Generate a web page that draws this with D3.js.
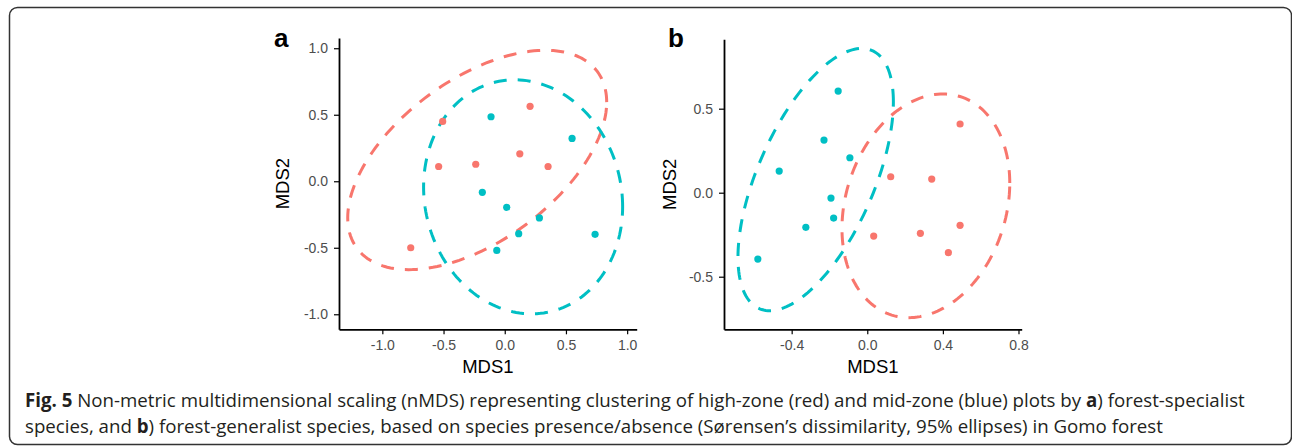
<!DOCTYPE html>
<html>
<head>
<meta charset="utf-8">
<script src="https://cdn.jsdelivr.net/npm/d3@7"></script>
<style>
  body { margin: 0; background: #fff; }
  svg { display: block; }
  .tick text { font-family: "Liberation Sans", Arial, sans-serif; font-size: 14px; fill: #4d4d4d; }
  .tick line, .domain { stroke: #000; }
</style>
</head>
<body>
<svg width="1292" height="447"></svg>
<script>
// ---- data ----
var groups = ["high", "mid"];
var groupColor = ["#F8766D", "#00BFC4"];

// panel a (forest-specialist)
var aHighX = [-0.507, 0.207, -0.540, -0.237, 0.123, 0.354, -0.768];
var aHighY = [0.450, 0.563, 0.111, 0.128, 0.206, 0.111, -0.500];
var aMidX = [-0.112, 0.550, -0.183, 0.016, 0.283, 0.114, -0.065, 0.738];
var aMidY = [0.485, 0.322, -0.083, -0.196, -0.276, -0.394, -0.520, -0.399];
// 95% ellipses: centre [x, y] and shape [sxx, syy, sxy]
var aHighCentre = [-0.225, 0.160], aHighShape = [1.119, 0.680, 0.46];
var aMidCentre = [0.150, -0.117], aMidShape = [0.661, 0.774, -0.06];
var aTicks = [-1.0, -0.5, 0.0, 0.5, 1.0];

// panel b (forest-generalist)
var bHighX = [0.491, 0.124, 0.341, 0.491, 0.034, 0.281, 0.429];
var bHighY = [0.409, 0.095, 0.081, -0.194, -0.258, -0.242, -0.357];
var bMidX = [-0.154, -0.229, -0.092, -0.466, -0.192, -0.178, -0.325, -0.579];
var bMidY = [0.605, 0.313, 0.208, 0.129, -0.032, -0.151, -0.206, -0.395];
var bHighCentre = [0.310, -0.078], bHighShape = [0.197, 0.443, 0.06];
var bMidCentre = [-0.273, 0.078], bMidShape = [0.169, 0.609, 0.19];
var bXTicks = [-0.4, 0.0, 0.4, 0.8];
var bYTicks = [-0.5, 0.0, 0.5];

var svg = d3.select("svg");

// caption box
svg.append("rect")
    .attr("x", 9.5).attr("y", 7.5)
    .attr("width", 1282).attr("height", 437)
    .attr("rx", 8)
    .attr("fill", "none")
    .attr("stroke", "#333")
    .attr("stroke-width", 1.5);

function ellipsePoints(centre, shape) {
  var l11 = Math.sqrt(shape[0]),
      l21 = shape[2] / l11,
      l22 = Math.sqrt(shape[1] - l21 * l21);
  return d3.range(0, 2 * Math.PI, Math.PI / 90).map(function(t) {
    var u = Math.cos(t), v = Math.sin(t);
    return [centre[0] + l11 * u, centre[1] + l21 * u + l22 * v];
  });
}

function panel(opt) {
  var x = d3.scaleLinear().domain(opt.xDomain).range(opt.xRange),
      y = d3.scaleLinear().domain(opt.yDomain).range(opt.yRange);
  var g = svg.append("g");

  var line = d3.line()
      .x(function(d) { return x(d[0]); })
      .y(function(d) { return y(d[1]); })
      .curve(d3.curveLinearClosed);

  g.selectAll("path.ell")
    .data(opt.ellipses)
    .enter().append("path")
    .attr("class", "ell")
    .attr("d", function(d) { return line(ellipsePoints(d.centre, d.shape)); })
    .attr("fill", "none")
    .attr("stroke", function(d) { return groupColor[d.group]; })
    .attr("stroke-width", 3)
    .attr("stroke-dasharray", "13,11");

  opt.series.forEach(function(s) {
    g.selectAll(null)
      .data(s.xs)
      .enter().append("circle")
      .attr("cx", function(d) { return x(d); })
      .attr("cy", function(d, i) { return y(s.ys[i]); })
      .attr("r", 3.6)
      .attr("fill", groupColor[s.group]);
  });

  var xAxis = g.append("g")
      .attr("transform", "translate(0," + opt.yRange[0] + ")")
      .call(d3.axisBottom(x).tickValues(opt.xTicks).tickFormat(d3.format(".1f"))
        .tickSize(5).tickSizeOuter(0).tickPadding(5.5));
  var yAxis = g.append("g")
      .attr("transform", "translate(" + opt.xRange[0] + ",0)")
      .call(d3.axisLeft(y).tickValues(opt.yTicks).tickFormat(d3.format(".1f"))
        .tickSize(5).tickSizeOuter(0).tickPadding(6));
  [xAxis, yAxis].forEach(function(a) {
    a.select(".domain").attr("stroke-width", 1.8);
    a.selectAll(".tick line").attr("stroke-width", 1.2);
    a.selectAll(".tick text").text(function(d) { return d3.format(".1f")(d).replace("−", "-"); });
  });

  g.append("text")
    .attr("x", (opt.xRange[0] + opt.xRange[1]) / 2)
    .attr("y", 373)
    .attr("text-anchor", "middle")
    .style("font-family", "Liberation Sans, Arial, sans-serif")
    .style("font-size", "18.5px")
    .text("MDS1");
  g.append("text")
    .attr("transform", "translate(" + opt.yTitleX + "," + ((opt.yRange[0] + opt.yRange[1]) / 2) + ") rotate(-90)")
    .attr("text-anchor", "middle")
    .style("font-family", "Liberation Sans, Arial, sans-serif")
    .style("font-size", "18.5px")
    .text("MDS2");
  g.append("text")
    .attr("x", opt.labelX).attr("y", 47)
    .style("font-family", "Liberation Sans, Arial, sans-serif")
    .style("font-size", "26px")
    .style("font-weight", "bold")
    .text(opt.label);
}

panel({
  label: "a", labelX: 274, yTitleX: 289,
  xDomain: [-1.354, 1.078], xRange: [339, 636.7],
  yDomain: [-1.113, 1.077], yRange: [329.3, 38],
  xTicks: aTicks, yTicks: aTicks,
  ellipses: [
    { group: 0, centre: aHighCentre, shape: aHighShape },
    { group: 1, centre: aMidCentre, shape: aMidShape }
  ],
  series: [
    { group: 0, xs: aHighX, ys: aHighY },
    { group: 1, xs: aMidX, ys: aMidY }
  ]
});

panel({
  label: "b", labelX: 668, yTitleX: 676,
  xDomain: [-0.758, 0.817], xRange: [724, 1021.7],
  yDomain: [-0.813, 0.913], yRange: [329.3, 39.3],
  xTicks: bXTicks, yTicks: bYTicks,
  ellipses: [
    { group: 1, centre: bMidCentre, shape: bMidShape },
    { group: 0, centre: bHighCentre, shape: bHighShape }
  ],
  series: [
    { group: 1, xs: bMidX, ys: bMidY },
    { group: 0, xs: bHighX, ys: bHighY }
  ]
});

// caption
var captionLines = [
  [["Fig. 5", true], [" Non-metric multidimensional scaling (nMDS) representing clustering of high-zone (red) and mid-zone (blue) plots by ", false], ["a", true], [") forest-specialist", false]],
  [["species, and ", false], ["b", true], [") forest-generalist species, based on species presence/absence (Sørensen’s dissimilarity, 95% ellipses) in Gomo forest", false]]
];
var captionY = [407, 433];
var caps = captionLines.map(function(parts, i) {
  var t = svg.append("text")
      .attr("x", 25).attr("y", captionY[i])
      .style("font-family", "Open Sans, sans-serif")
      .style("font-size", "16px")
      .attr("fill", "#231f20");
  parts.forEach(function(p) {
    t.append("tspan").style("font-weight", p[1] ? "bold" : "normal").text(p[0]);
  });
  return t;
});
var w = caps[0].node().getComputedTextLength();
var fs = 16 * 1220 / w;
caps.forEach(function(t) { t.style("font-size", fs + "px"); });
</script>
</body>
</html>
